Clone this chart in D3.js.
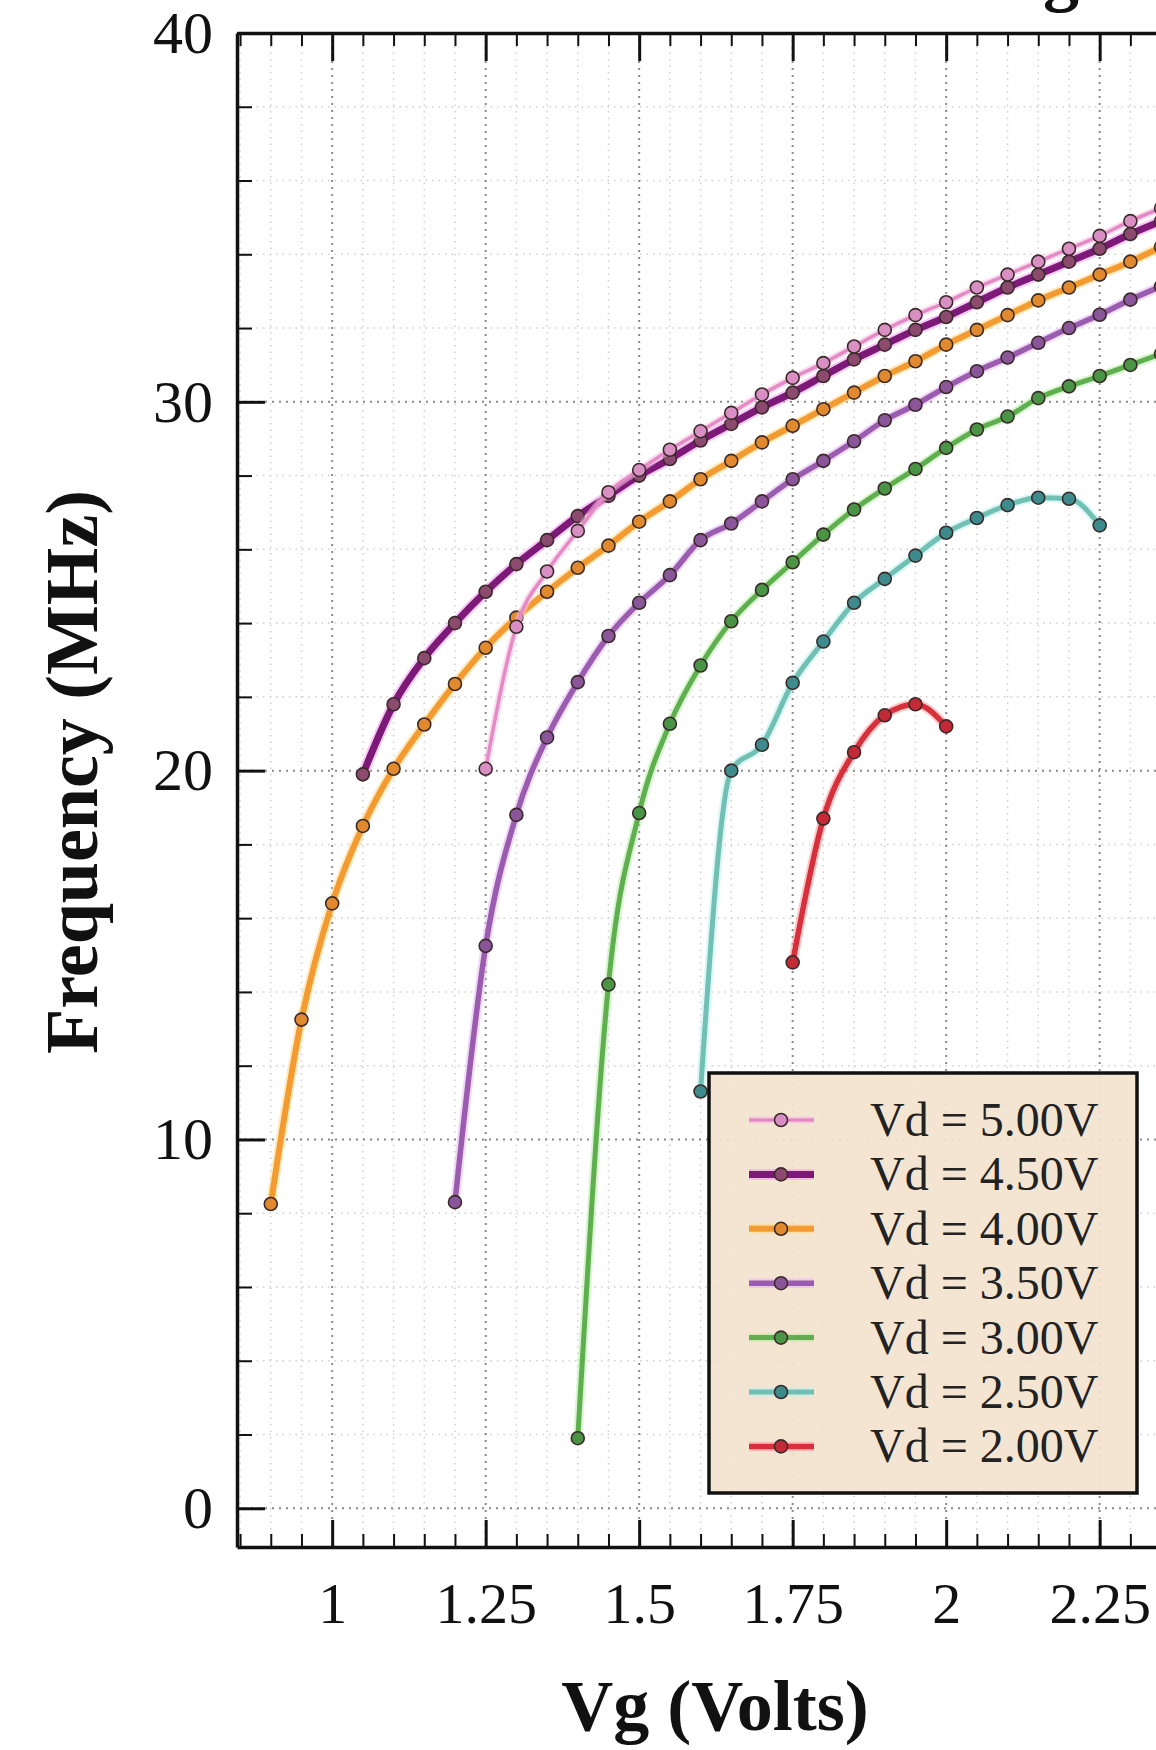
<!DOCTYPE html>
<html><head><meta charset="utf-8">
<script src="https://cdn.jsdelivr.net/npm/d3@7"></script>
<style>body{margin:0;background:#fff} svg{display:block}</style>
</head><body>
<svg id="chart" width="1156" height="1750"></svg>
<script>
// ---- data ----
const seriesNames = ["Vd = 5.00V","Vd = 4.50V","Vd = 4.00V","Vd = 3.50V","Vd = 3.00V","Vd = 2.50V","Vd = 2.00V"];
const vg500 = [1.25,1.30,1.35,1.40,1.45,1.50,1.55,1.60,1.65,1.70,1.75,1.80,1.85,1.90,1.95,2.00,2.05,2.10,2.15,2.20,2.25,2.30,2.35];
const f500  = [20.05,23.9,25.4,26.5,27.55,28.15,28.7,29.2,29.7,30.2,30.65,31.05,31.5,31.95,32.35,32.7,33.1,33.45,33.8,34.15,34.5,34.9,35.25];
const vg450 = [1.05,1.10,1.15,1.20,1.25,1.30,1.35,1.40,1.45,1.50,1.55,1.60,1.65,1.70,1.75,1.80,1.85,1.90,1.95,2.00,2.05,2.10,2.15,2.20,2.25,2.30,2.35];
const f450  = [19.9,21.8,23.05,24.0,24.85,25.6,26.25,26.9,27.45,28.0,28.45,28.95,29.4,29.85,30.25,30.7,31.15,31.55,31.95,32.3,32.7,33.1,33.45,33.8,34.15,34.55,34.9];
const vg400 = [0.90,0.95,1.00,1.05,1.10,1.15,1.20,1.25,1.30,1.35,1.40,1.45,1.50,1.55,1.60,1.65,1.70,1.75,1.80,1.85,1.90,1.95,2.00,2.05,2.10,2.15,2.20,2.25,2.30,2.35];
const f400  = [8.25,13.25,16.4,18.5,20.05,21.25,22.35,23.33,24.15,24.85,25.5,26.1,26.75,27.3,27.9,28.4,28.9,29.35,29.8,30.25,30.7,31.1,31.55,31.95,32.35,32.75,33.1,33.45,33.8,34.2];
const vg350 = [1.20,1.25,1.30,1.35,1.40,1.45,1.50,1.55,1.60,1.65,1.70,1.75,1.80,1.85,1.90,1.95,2.00,2.05,2.10,2.15,2.20,2.25,2.30,2.35];
const f350  = [8.3,15.25,18.8,20.9,22.4,23.65,24.55,25.3,26.25,26.7,27.3,27.9,28.4,28.93,29.5,29.92,30.4,30.83,31.2,31.6,32.0,32.36,32.77,33.13];
const vg300 = [1.40,1.45,1.50,1.55,1.60,1.65,1.70,1.75,1.80,1.85,1.90,1.95,2.00,2.05,2.10,2.15,2.20,2.25,2.30,2.35];
const f300  = [1.9,14.2,18.85,21.27,22.85,24.05,24.9,25.65,26.4,27.08,27.65,28.18,28.75,29.25,29.6,30.1,30.42,30.7,31.0,31.3];
const vg250 = [1.60,1.65,1.70,1.75,1.80,1.85,1.90,1.95,2.00,2.05,2.10,2.15,2.20,2.25];
const f250  = [11.3,20.0,20.7,22.38,23.5,24.55,25.2,25.83,26.45,26.85,27.2,27.4,27.37,26.65];
const vg200 = [1.75,1.80,1.85,1.90,1.95,2.00];
const f200  = [14.8,18.7,20.5,21.5,21.8,21.2];

const xMajorTicks = [1, 1.25, 1.5, 1.75, 2, 2.25];
const xTickLabels = ["1","1.25","1.5","1.75","2","2.25"];
const yMajorTicks = [0, 10, 20, 30, 40];
const yTickLabels = ["0","10","20","30","40"];

// ---- styles ----
const lineColors   = ["#e58ac5","#7d1a78","#f39a30","#9a5cae","#5fae4f","#72c0b3","#d7303d"];
const haloColors   = ["#f7c2e4","#f29af0","#ffd88a","#e6b8f2","#b6eea6","#b8f0ee","#ff9a9a"];
const markerColors = ["#d98fc4","#8c4a6e","#e0892e","#8a5699","#4a9545","#3e8b8e","#c42a35"];
const lineWidths   = [3.5, 7, 6, 5.5, 5, 5, 5.5];

const series = [
  {name: seriesNames[0], vg: vg500, f: f500},
  {name: seriesNames[1], vg: vg450, f: f450},
  {name: seriesNames[2], vg: vg400, f: f400},
  {name: seriesNames[3], vg: vg350, f: f350},
  {name: seriesNames[4], vg: vg300, f: f300},
  {name: seriesNames[5], vg: vg250, f: f250},
  {name: seriesNames[6], vg: vg200, f: f200}
].map((s, i) => ({...s, i, pts: s.vg.map((v, k) => ({x: v, y: s.f[k]}))}));

const svg = d3.select("#chart");
svg.append("rect").attr("width",1156).attr("height",1750).attr("fill","#fff");

const L = 237, T = 33, B = 1547;
const x = d3.scaleLinear().domain([0.845, 2.4]).range([L, L + 1.555 * 614]);
const y = d3.scaleLinear().domain([-1.05, 40]).range([B, T]);
const R = x.range()[1];
const serif = "'Liberation Serif','Times New Roman',serif";

svg.append("defs").append("clipPath").attr("id","plot")
  .append("rect").attr("x",L).attr("y",T).attr("width",R-L).attr("height",B-T);

// ---- grid ----
const xMinor = d3.range(17, 48).map(k => k * 0.05).filter(v => !xMajorTicks.some(m => Math.abs(m - v) < 1e-6));
const yMinor = d3.range(0, 21).map(k => k * 2).filter(v => v % 10 !== 0);
const grid = svg.append("g").attr("clip-path","url(#plot)");
grid.selectAll(".gxm").data(xMinor).join("line")
  .attr("x1", d => x(d)).attr("x2", d => x(d)).attr("y1", T).attr("y2", B)
  .attr("stroke","#d0d0d0").attr("stroke-width",1.5).attr("stroke-dasharray","1.5,5");
grid.selectAll(".gym").data(yMinor).join("line")
  .attr("y1", d => y(d)).attr("y2", d => y(d)).attr("x1", L).attr("x2", R)
  .attr("stroke","#d0d0d0").attr("stroke-width",1.5).attr("stroke-dasharray","1.5,5");
grid.selectAll(".gxM").data(xMajorTicks).join("line")
  .attr("x1", d => x(d)).attr("x2", d => x(d)).attr("y1", T).attr("y2", B)
  .attr("stroke","#8a8a8a").attr("stroke-width",2).attr("stroke-dasharray","2,5");
grid.selectAll(".gyM").data(yMajorTicks).join("line")
  .attr("y1", d => y(d)).attr("y2", d => y(d)).attr("x1", L).attr("x2", R)
  .attr("stroke","#8a8a8a").attr("stroke-width",2).attr("stroke-dasharray","2,5");

// ---- series ----
const lineGen = d3.line().x(d => x(d.x)).y(d => y(d.y)).curve(d3.curveMonotoneX);
const plotG = svg.append("g").attr("clip-path","url(#plot)");
const drawOrder = [6,5,4,3,2,1,0];
drawOrder.forEach(i => {
  const s = series[i];
  const g = plotG.append("g");
  g.append("path").attr("d", lineGen(s.pts)).attr("fill","none")
    .attr("stroke", haloColors[i]).attr("stroke-width", lineWidths[i] + 4).attr("stroke-opacity",0.55)
    .attr("stroke-linejoin","round").attr("stroke-linecap","round");
  g.append("path").attr("d", lineGen(s.pts)).attr("fill","none")
    .attr("stroke", lineColors[i]).attr("stroke-width", lineWidths[i])
    .attr("stroke-linejoin","round").attr("stroke-linecap","round");
  g.selectAll("circle").data(s.pts).join("circle")
    .attr("cx", d => x(d.x)).attr("cy", d => y(d.y)).attr("r", 6.5)
    .attr("fill", markerColors[i]).attr("stroke","#3a2a2a").attr("stroke-width",1.6);
});

// ---- axes ----
function styleAxis(g) {
  g.select(".domain").attr("stroke","#111").attr("stroke-width",3.5);
  g.selectAll(".tick line").attr("stroke","#111").attr("stroke-width",3);
}
function styleMinor(g) {
  g.select(".domain").remove();
  g.selectAll(".tick line").attr("stroke","#111").attr("stroke-width",2);
}
const axBottom = svg.append("g").attr("transform",`translate(0,${B})`)
  .call(d3.axisBottom(x).tickValues(xMajorTicks).tickSizeInner(-27).tickSizeOuter(0).tickPadding(35)
    .tickFormat((d, k) => xTickLabels[k]));
axBottom.selectAll("text").attr("font-family", serif).attr("font-size",58).attr("fill","#111");
styleAxis(axBottom);
svg.append("g").attr("transform",`translate(0,${B})`)
  .call(d3.axisBottom(x).tickValues(xMinor).tickSizeInner(-13).tickSizeOuter(0).tickFormat(""))
  .call(styleMinor);

const axTop = svg.append("g").attr("transform",`translate(0,${T})`)
  .call(d3.axisTop(x).tickValues(xMajorTicks).tickSizeInner(-28).tickSizeOuter(0).tickFormat(""));
styleAxis(axTop);
svg.append("g").attr("transform",`translate(0,${T})`)
  .call(d3.axisTop(x).tickValues(xMinor).tickSizeInner(-13).tickSizeOuter(0).tickFormat(""))
  .call(styleMinor);

const axLeft = svg.append("g").attr("transform",`translate(${L},0)`)
  .call(d3.axisLeft(y).tickValues(yMajorTicks).tickSizeInner(-28).tickSizeOuter(0).tickPadding(24)
    .tickFormat((d, k) => yTickLabels[k]));
axLeft.selectAll("text").attr("font-family", serif).attr("font-size",60).attr("fill","#111");
styleAxis(axLeft);
svg.append("g").attr("transform",`translate(${L},0)`)
  .call(d3.axisLeft(y).tickValues(yMinor).tickSizeInner(-15).tickSizeOuter(0).tickFormat(""))
  .call(styleMinor);

// ---- titles ----
svg.append("text").attr("transform","translate(97,772) rotate(-90)")
  .attr("text-anchor","middle").attr("font-family", serif).attr("font-weight","bold")
  .attr("font-size",74).attr("fill","#111").text("Frequency (MHz)");
svg.append("text").attr("x",715).attr("y",1730)
  .attr("text-anchor","middle").attr("font-family", serif).attr("font-weight","bold")
  .attr("font-size",72).attr("fill","#111").text("Vg (Volts)");
// top title is cropped in the reference: only the tail of one letter shows
svg.append("text").attr("x",1043).attr("y",-2)
  .attr("font-family", serif).attr("font-weight","bold")
  .attr("font-size",72).attr("fill","#111").text("g");

// ---- legend ----
const lg = svg.append("g");
lg.append("rect").attr("x",709).attr("y",1073).attr("width",428).attr("height",420)
  .attr("fill","#f3e3cf").attr("fill-opacity",0.92).attr("stroke","#111").attr("stroke-width",3.5);
series.forEach((s, i) => {
  const cy = 1120 + i * 54.4;
  lg.append("line").attr("x1",749).attr("x2",814).attr("y1",cy).attr("y2",cy)
    .attr("stroke", haloColors[i]).attr("stroke-width", lineWidths[i] + 4).attr("stroke-opacity",0.55);
  lg.append("line").attr("x1",749).attr("x2",814).attr("y1",cy).attr("y2",cy)
    .attr("stroke", lineColors[i]).attr("stroke-width", lineWidths[i]);
  lg.append("circle").attr("cx",781).attr("cy",cy).attr("r",6.5)
    .attr("fill", markerColors[i]).attr("stroke","#3a2a2a").attr("stroke-width",1.6);
  lg.append("text").attr("x",870).attr("y",cy + 16)
    .attr("font-family", serif).attr("font-size",48).attr("fill","#222").text(s.name);
});
</script>
</body></html>
